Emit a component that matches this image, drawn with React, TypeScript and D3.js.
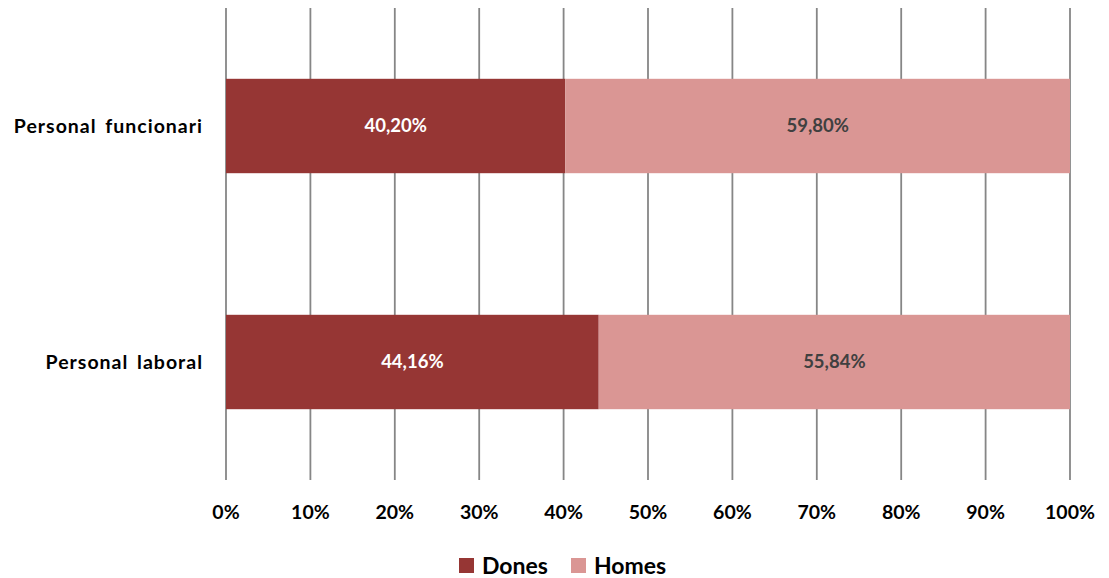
import React from "react";
import * as d3 from "d3";

const categories = ["Personal funcionari", "Personal laboral"];
const dones = [40.2, 44.16];
const homes = [59.8, 55.84];
const ticks = [0, 10, 20, 30, 40, 50, 60, 70, 80, 90, 100];
const seriesNames = ["Dones", "Homes"];
const colors = ["#963634", "#DA9694"];
const labelColors = ["#FFFFFF", "#404040"];

const W = 1109, H = 578;
const FONT = "Lato, 'Open Sans', sans-serif";

export default function App() {
  const x = d3.scaleLinear().domain([0, 100]).range([226, 1070]);
  const y = d3.scaleBand<string>().domain(categories).range([8, 480]).paddingInner(0.6).paddingOuter(0.3);
  const fmt = (v: number) => v.toFixed(2).replace(".", ",") + "%";
  const stacks = categories.map((c, i) => {
    const segs = [dones[i], homes[i]];
    let acc = 0;
    return segs.map((v, k) => {
      const s = { x0: acc, x1: acc + v, v, k };
      acc += v;
      return s;
    });
  });
  return (
    <svg width={W} height={H} style={{ position: "absolute", left: 0, top: 0, background: "#fff" }}>
      {ticks.map((t) => (
        <line key={t} x1={x(t)} x2={x(t)} y1={8} y2={480} stroke="#868686" strokeWidth={1.8} />
      ))}
      {categories.map((c, i) => (
        <g key={c}>
          {stacks[i].map((s) => (
            <g key={s.k}>
              <rect x={x(s.x0)} y={y(c)!} width={x(s.x1) - x(s.x0)} height={y.bandwidth()} fill={colors[s.k]} />
              <text x={(x(s.x0) + x(s.x1)) / 2} y={y(c)! + y.bandwidth() / 2} dy="0.35em" textAnchor="middle"
                fontFamily={FONT} fontWeight="bold" fontSize={18.5} fill={labelColors[s.k]}>{fmt(s.v)}</text>
            </g>
          ))}
          <text x={203} y={y(c)! + y.bandwidth() / 2} dy="0.35em" textAnchor="end" fontFamily={FONT}
            fontWeight="bold" fontSize={19.5} fill="#000" style={{ wordSpacing: "3px", letterSpacing: "1px" }}>{c}</text>
        </g>
      ))}
      {ticks.map((t) => (
        <text key={"l" + t} x={x(t)} y={512} dy="0.35em" textAnchor="middle" fontFamily={FONT} fontWeight="bold"
          fontSize={19.5} fill="#000">{t + "%"}</text>
      ))}
      {seriesNames.map((n, k) => {
        const lx = [459, 571][k];
        return (
          <g key={n}>
            <rect x={lx} y={558} width={15} height={15} fill={colors[k]} />
            <text x={lx + 23} y={566} dy="0.35em" fontFamily={FONT} fontWeight="bold" fontSize={23} fill="#000">{n}</text>
          </g>
        );
      })}
    </svg>
  );
}
